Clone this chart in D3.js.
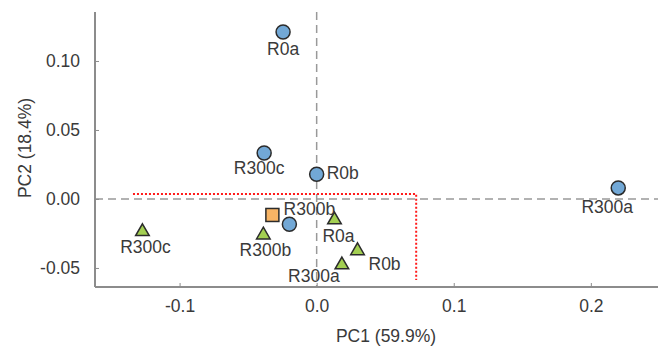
<!DOCTYPE html>
<html><head><meta charset="utf-8">
<script src="https://cdn.jsdelivr.net/npm/d3@7"></script>
<style>html,body{margin:0;padding:0;background:#fff;}svg{display:block;font-family:"Liberation Sans",Arial,sans-serif;}</style>
</head><body>
<svg id="c" width="658" height="347"></svg>
<script>
// data
const circleNames = ["R0a","R300c","R0b","R300a","R300b"];
const circlePC1 = [-0.0245, -0.0383, 0.0000, 0.2200, -0.0199];
const circlePC2 = [0.1210, 0.0333, 0.0179, 0.0080, -0.0183];
const squarePC1 = [-0.0323];
const squarePC2 = [-0.0116];
const triangleNames = ["R300c","R300b","R0a","R0b","R300a"];
const trianglePC1 = [-0.1271, -0.0389, 0.0130, 0.0298, 0.0184];
const trianglePC2 = [-0.0237, -0.0261, -0.0152, -0.0375, -0.0478];
const xTicks = [-0.1, 0.0, 0.1, 0.2];
const yTicks = [-0.05, 0.00, 0.05, 0.10];
const boxX = [-0.134, 0.0726];
const boxY = [0.0036, -0.0587];
const xTitle = "PC1 (59.9%)";
const yTitle = "PC2 (18.4%)";

// label placement (pixel offsets, anchor)
const circleLabelPos = [[0,23,"middle"],[-5,21,"middle"],[10,5,"start"],[-11,25,"middle"],[20,-9,"middle"]];
const triangleLabelPos = [[3,21,"middle"],[2,21,"middle"],[4,22,"middle"],[11,19,"start"],[-28,17,"middle"]];

const FS = 17.5;
const svg = d3.select("#c");
const L = 95, R = 658, T = 12, B = 287;
const x = d3.scaleLinear().domain([-0.1617, 0.249]).range([L, R]);
const y = d3.scaleLinear().domain([-0.0638, 0.1355]).range([B, T]);
const axisCol = "#8c8c8c", textCol = "#3a3a3a";
const fmt = f => d => d3.format(f)(d).replace("\u2212", "-");

// zero dashed lines
svg.append("line").attr("x1", x(0)).attr("x2", x(0)).attr("y1", T).attr("y2", B)
  .attr("stroke", "#999").attr("stroke-width", 1.5).attr("stroke-dasharray", "8,5");
svg.append("line").attr("x1", L).attr("x2", R).attr("y1", y(0)).attr("y2", y(0))
  .attr("stroke", "#999").attr("stroke-width", 1.5).attr("stroke-dasharray", "8,5");

// red dotted box
svg.append("path")
  .attr("d", d3.line()([[x(boxX[0]), y(boxY[0])],[x(boxX[1]), y(boxY[0])],[x(boxX[1]), y(boxY[1])]]))
  .attr("fill", "none").attr("stroke", "#ff1a1a").attr("stroke-width", 2).attr("stroke-dasharray", "2,2");

// axes
const xAxis = d3.axisBottom(x).tickValues(xTicks).tickFormat(fmt(".1f")).tickSizeInner(-4).tickSizeOuter(0).tickPadding(13);
const gx = svg.append("g").attr("transform", `translate(0,${B})`).call(xAxis);
const yAxis = d3.axisLeft(y).tickValues(yTicks).tickFormat(fmt(".2f")).tickSizeInner(-4).tickSizeOuter(0).tickPadding(15);
const gy = svg.append("g").attr("transform", `translate(${L},0)`).call(yAxis);
[gx, gy].forEach(g => {
  g.select(".domain").attr("stroke", axisCol).attr("stroke-width", 2);
  g.selectAll(".tick line").attr("stroke", axisCol).attr("stroke-width", 1);
  g.selectAll(".tick text").attr("fill", textCol).attr("font-size", FS).attr("font-family", "Liberation Sans, Arial, sans-serif");
});
gy.select(".domain").attr("d", `M0,${T}V${B}`);
gx.select(".domain").attr("d", `M${L},0H${R}`);
gx.selectAll(".tick text").attr("dy", "0.71em");

// titles
svg.append("text").attr("x", 386).attr("y", 342).attr("text-anchor", "middle")
  .attr("font-size", FS).attr("fill", textCol).text(xTitle);
svg.append("text").attr("transform", "translate(31,148) rotate(-90)").attr("text-anchor", "middle")
  .attr("font-size", FS).attr("fill", textCol).text(yTitle);

const stroke = "#2b2b2b";
// circles
circleNames.forEach((n, i) => {
  svg.append("circle").attr("cx", x(circlePC1[i])).attr("cy", y(circlePC2[i])).attr("r", 7)
    .attr("fill", "#72a8d6").attr("stroke", stroke).attr("stroke-width", 1.5);
});
// square
squarePC1.forEach((v, i) => {
  svg.append("rect").attr("x", x(v) - 6.5).attr("y", y(squarePC2[i]) - 6.5).attr("width", 13).attr("height", 13)
    .attr("fill", "#f7b465").attr("stroke", stroke).attr("stroke-width", 1.5);
});
// triangles
const tri = d3.symbol().type(d3.symbolTriangle).size(80);
triangleNames.forEach((n, i) => {
  svg.append("path").attr("d", tri()).attr("transform", `translate(${x(trianglePC1[i])},${y(trianglePC2[i])})`)
    .attr("fill", "#a3cf52").attr("stroke", stroke).attr("stroke-width", 1.5);
});
// labels
circleNames.forEach((n, i) => {
  const p = circleLabelPos[i];
  svg.append("text").attr("x", x(circlePC1[i]) + p[0]).attr("y", y(circlePC2[i]) + p[1]).attr("text-anchor", p[2])
    .attr("font-size", FS).attr("fill", textCol).text(n);
});
triangleNames.forEach((n, i) => {
  const p = triangleLabelPos[i];
  svg.append("text").attr("x", x(trianglePC1[i]) + p[0]).attr("y", y(trianglePC2[i]) + p[1]).attr("text-anchor", p[2])
    .attr("font-size", FS).attr("fill", textCol).text(n);
});
</script>
</body></html>
